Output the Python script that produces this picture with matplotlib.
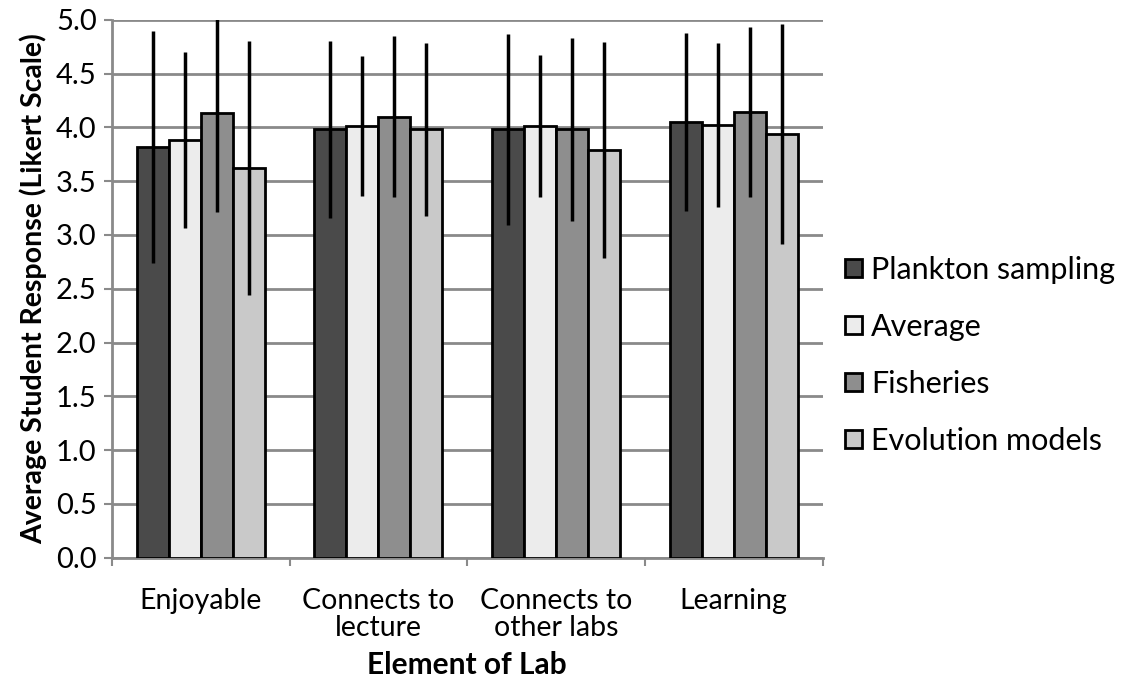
import numpy as np
import matplotlib.pyplot as plt
from matplotlib.patches import Patch

plt.rcParams['font.family'] = ['Lato', 'DejaVu Sans']

categories = ["Enjoyable", "Connects to\nlecture", "Connects to\nother labs", "Learning"]
series = ["Plankton sampling", "Average", "Fisheries", "Evolution models"]
colors = ["#4a4a4a", "#ececec", "#8e8e8e", "#c9c9c9"]

plankton = [3.82, 3.98, 3.98, 4.05]
average = [3.88, 4.01, 4.01, 4.02]
fisheries = [4.13, 4.10, 3.98, 4.14]
evolution = [3.62, 3.98, 3.79, 3.94]

plankton_err = [1.08, 0.82, 0.89, 0.83]
average_err = [0.82, 0.65, 0.66, 0.76]
fisheries_err = [0.92, 0.75, 0.85, 0.79]
evolution_err = [1.18, 0.80, 1.00, 1.02]

values = [plankton, average, fisheries, evolution]
errors = [plankton_err, average_err, fisheries_err, evolution_err]

fig = plt.figure(figsize=(11.3, 6.81), dpi=100)
ax = fig.add_axes([0.099, 0.181, 0.629, 0.790])

x = np.arange(len(categories))
w = 0.18
for i, (vals, errs) in enumerate(zip(values, errors)):
    pos = x + (i - 1.5) * w
    ax.bar(pos, vals, width=w, color=colors[i], edgecolor="black",
           linewidth=2, zorder=3)
    ax.errorbar(pos, vals, yerr=errs, fmt="none", ecolor="black",
                elinewidth=2.5, capsize=0, zorder=4)

ax.set_xlim(-0.5, len(categories) - 0.5)
ax.set_ylim(0, 5)
ax.set_yticks(np.arange(0, 5.01, 0.5))
ax.set_yticklabels(["%.1f" % v for v in np.arange(0, 5.01, 0.5)], fontsize=21)
ax.yaxis.grid(True, color="#8a8a8a", linewidth=2, zorder=0)

ax.set_xticks(np.arange(-0.5, len(categories), 1.0))
ax.set_xticklabels([])
ax.set_xticks(x, minor=True)
ax.set_xticklabels(categories, minor=True, fontsize=20.5, linespacing=1.05)
ax.tick_params(axis="x", which="minor", length=0, pad=22)
ax.tick_params(axis="x", which="major", length=6, color="#8a8a8a", width=1.5)
ax.tick_params(axis="y", length=6, color="#8a8a8a", width=1.5, pad=5)

for s in ["top", "right"]:
    ax.spines[s].set_visible(False)
ax.spines["left"].set_color("#8a8a8a")
ax.spines["left"].set_linewidth(2)
ax.spines["bottom"].set_color("#8a8a8a")
ax.spines["bottom"].set_linewidth(2)

ax.set_ylabel("Average Student Response (Likert Scale)", fontsize=20.5,
              fontweight="bold", labelpad=6)
ax.set_xlabel("Element of Lab", fontsize=21.5, fontweight="bold", labelpad=7)

handles = [Patch(facecolor=c, edgecolor="black", linewidth=2) for c in colors]
fig.legend(handles, series, loc="center left", bbox_to_anchor=(0.737, 0.478),
           frameon=False, fontsize=22, labelspacing=0.95, handlelength=0.55,
           handleheight=0.55, handletextpad=0.3, borderaxespad=0.0)

fig.savefig("out.png", dpi=100)
